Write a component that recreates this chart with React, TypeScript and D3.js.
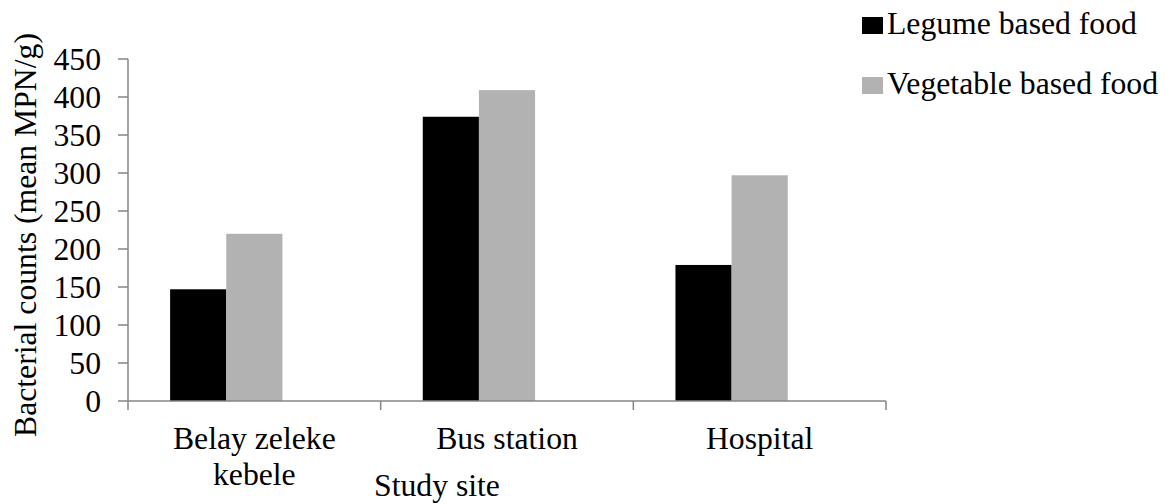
import React from "react";
import * as d3 from "d3";

const categories: string[][] = [["Belay zeleke", "kebele"], ["Bus station"], ["Hospital"]];
const categoryKeys = ["Belay zeleke kebele", "Bus station", "Hospital"];
const seriesNames = ["Legume based food", "Vegetable based food"];
const legumeValues = [147, 374, 179];
const vegetableValues = [220, 409, 297];
const yTicks = [0, 50, 100, 150, 200, 250, 300, 350, 400, 450];
const colors = ["#000000", "#b2b2b2"];
const xTitle = "Study site";
const yTitle = "Bacterial counts (mean MPN/g)";

const W = 1165;
const H = 504;
const left = 128;
const right = 886;
const top = 59;
const bottom = 401;
const FONT = "Liberation Serif, Times New Roman, serif";
const FS = 31.7;
const AXIS = "#868686";

export default function App() {
  const x = d3.scaleBand<string>().domain(categoryKeys).range([left, right]).paddingInner(0).paddingOuter(0);
  // Three slots per category (third slot empty, as in the source chart)
  const slots = [...seriesNames, "_empty"];
  const xi = d3.scaleBand<string>().domain(slots).range([0, x.bandwidth()]).paddingInner(0).paddingOuter(0.75);
  const y = d3.scaleLinear().domain([0, 450]).range([bottom, top]);
  const series = [legumeValues, vegetableValues];

  const boundaries = [...categoryKeys.map((c) => x(c)!), right];

  return (
    <svg width={W} height={H} style={{ position: "absolute", left: 0, top: 0, background: "#fff", fontFamily: FONT }}>
      {/* bars */}
      {series.map((vals, si) =>
        vals.map((v, ci) => (
          <rect
            key={`${si}-${ci}`}
            x={x(categoryKeys[ci])! + xi(seriesNames[si])!}
            y={y(v)}
            width={xi.bandwidth()}
            height={y(0) - y(v)}
            fill={colors[si]}
          />
        ))
      )}
      {/* y axis */}
      <line x1={left} x2={left} y1={y(450)} y2={y(0)} stroke={AXIS} strokeWidth={1.5} />
      {yTicks.map((t) => (
        <g key={t}>
          <line x1={left - 10} x2={left} y1={y(t)} y2={y(t)} stroke={AXIS} strokeWidth={1.5} />
          <text x={101} y={y(t)} dy="0.35em" textAnchor="end" fontSize={FS} fill="#000">
            {t}
          </text>
        </g>
      ))}
      {/* x axis */}
      <line x1={left} x2={right} y1={y(0)} y2={y(0)} stroke={AXIS} strokeWidth={1.5} />
      {boundaries.map((b, i) => (
        <line key={i} x1={b} x2={b} y1={y(0)} y2={y(0) + 9} stroke={AXIS} strokeWidth={1.5} />
      ))}
      {categories.map((lines, ci) => (
        <text key={ci} x={x(categoryKeys[ci])! + x.bandwidth() / 2} y={449} textAnchor="middle" fontSize={FS} fill="#000">
          {lines.map((l, li) => (
            <tspan key={li} x={x(categoryKeys[ci])! + x.bandwidth() / 2} dy={li === 0 ? 0 : 36}>
              {l}
            </tspan>
          ))}
        </text>
      ))}
      {/* axis titles */}
      <text x={437} y={496} textAnchor="middle" fontSize={FS} fill="#000">
        {xTitle}
      </text>
      <text transform={`translate(36,235) rotate(-90)`} textAnchor="middle" fontSize={FS} fill="#000">
        {yTitle}
      </text>
      {/* legend */}
      {seriesNames.map((s, i) => (
        <g key={s}>
          <rect x={862} y={17 + i * 60} width={21} height={17} fill={colors[i]} />
          <text x={887} y={34 + i * 60} fontSize={FS} fill="#000">
            {s}
          </text>
        </g>
      ))}
    </svg>
  );
}
